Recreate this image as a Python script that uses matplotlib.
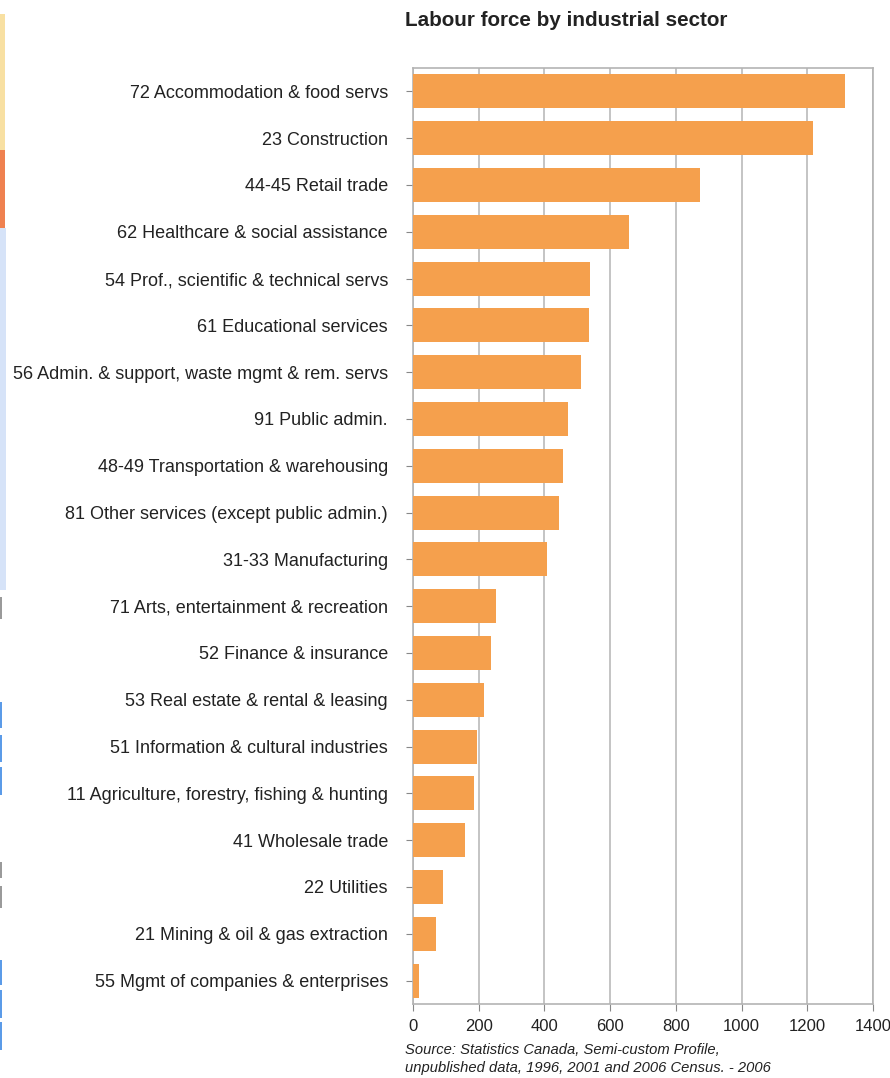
import matplotlib
matplotlib.use("Agg")
import matplotlib.pyplot as plt
from matplotlib.patches import Rectangle

sectors = [
    "72 Accommodation & food servs",
    "23 Construction",
    "44-45 Retail trade",
    "62 Healthcare & social assistance",
    "54 Prof., scientific & technical servs",
    "61 Educational services",
    "56 Admin. & support, waste mgmt & rem. servs",
    "91 Public admin.",
    "48-49 Transportation & warehousing",
    "81 Other services (except public admin.)",
    "31-33 Manufacturing",
    "71 Arts, entertainment & recreation",
    "52 Finance & insurance",
    "53 Real estate & rental & leasing",
    "51 Information & cultural industries",
    "11 Agriculture, forestry, fishing & hunting",
    "41 Wholesale trade",
    "22 Utilities",
    "21 Mining & oil & gas extraction",
    "55 Mgmt of companies & enterprises",
]
labour_force = [1315, 1216, 874, 658, 540, 537, 511, 472, 455, 443,
                408, 253, 237, 216, 196, 186, 157, 92, 71, 19]
x_ticks = [0, 200, 400, 600, 800, 1000, 1200, 1400]

plt.rcParams["font.family"] = ["Liberation Sans", "DejaVu Sans"]

W, H = 890, 1078
fig = plt.figure(figsize=(W / 100, H / 100), dpi=100)
fig.patch.set_facecolor("white")

ax = fig.add_axes([413 / W, 1 - 1004 / H, 460 / W, 936 / H])
ypos = list(range(len(sectors)))
ax.barh(ypos, labour_force, height=0.73, color="#f5a04d", zorder=3)
ax.set_ylim(len(sectors) - 0.5, -0.5)
ax.set_xlim(0, 1400)
ax.set_xticks(x_ticks)
ax.set_xticklabels([str(v) for v in x_ticks], fontsize=12, color="#222222")
ax.set_yticks(ypos)
ax.set_yticklabels(sectors, fontsize=13, color="#222222")
ax.grid(axis="x", color="#c4c4c4", linewidth=1.4, zorder=0)
for s in ax.spines.values():
    s.set_color("#b4b4b4")
    s.set_linewidth(1.2)
ax.tick_params(axis="y", length=5, color="#888888", pad=13)
ax.tick_params(axis="x", length=5, color="#888888", pad=6)

fig.text(405 / W, 1 - 20 / H, "Labour force by industrial sector",
         fontsize=14.9, fontweight="bold", color="#222222", va="center", ha="left")
fig.text(405 / W, 1 - 1050 / H, "Source: Statistics Canada, Semi-custom Profile,",
         fontsize=10.6, style="italic", color="#222222", va="center", ha="left")
fig.text(405 / W, 1 - 1068 / H, "unpublished data, 1996, 2001 and 2006 Census. - 2006",
         fontsize=10.6, style="italic", color="#222222", va="center", ha="left")

# narrow coloured strips along the left edge of the page
def strip(x0, y0, w, h, color):
    fig.add_artist(Rectangle((x0 / W, 1 - (y0 + h) / H), w / W, h / H,
                             transform=fig.transFigure, color=color, lw=0))

strip(0, 14, 5, 136, "#f8e0a2")
strip(0, 150, 5, 78, "#ef8150")
strip(0, 228, 6, 362, "#d6e3f8")
for y0, h in [(597, 22), (862, 16), (886, 22)]:
    strip(0, y0, 2, h, "#9a9a9a")
for y0, h in [(702, 26), (735, 27), (767, 28), (960, 25), (990, 28), (1022, 28)]:
    strip(0, y0, 2, h, "#5b9be8")

fig.savefig("out.png", dpi=100)
